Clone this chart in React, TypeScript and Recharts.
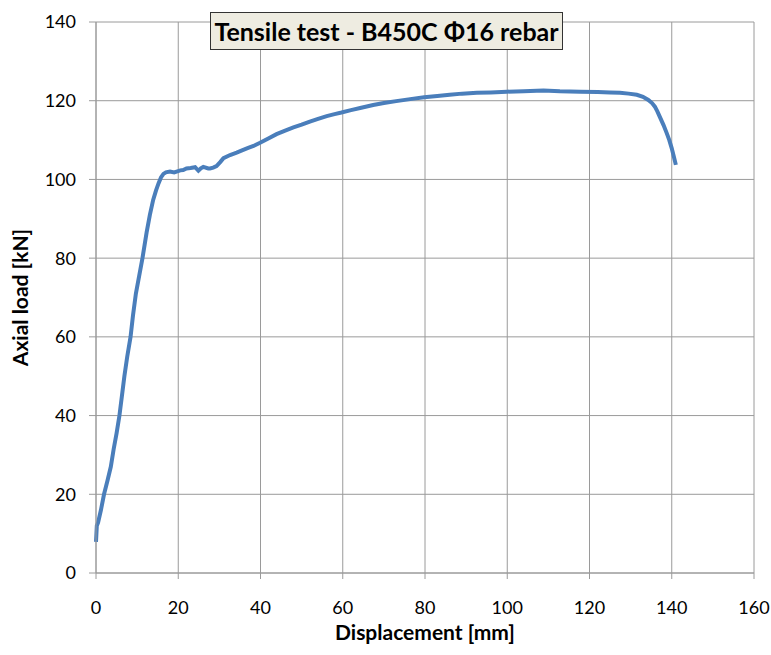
import { LineChart, Line, XAxis, YAxis, CartesianGrid, Label } from 'recharts'

// displacement [mm] and axial load [kN]
const displacement = [
  0, 0.2, 0.5, 1.2, 1.95, 2.8, 3.6, 4.3, 5.0, 5.7, 6.3, 6.9, 7.6, 8.4, 9.0, 9.7, 10.5, 11.3, 12.3, 13.1,
  13.9, 14.6, 15.2, 15.8, 16.4, 17, 18, 19, 19.6, 20.5, 21.2, 22, 23, 24.1, 24.9, 25.5, 26.1, 27.3,
  27.7, 28.5, 29.3, 30.2, 31, 32.6, 34.2, 35.8, 37, 38.3, 39.9, 41.9, 43.9, 46, 48, 50, 52, 54,
  56.1, 58, 59.7, 62, 64.5, 67.4, 70, 73, 76.4, 79.8, 83, 86, 89, 92.6, 96, 99.9, 104, 108.8,
  112.8, 117.7, 122, 125, 127.4, 129.5, 131.5, 133, 134.3, 135.2, 135.9, 136.5, 137.1, 138, 138.8,
  139.4, 140, 140.5, 141,
]
const load = [
  7.9, 12, 12.8, 16, 20, 23.5, 27, 31.5, 35.5, 40, 45, 50, 55, 60, 65.5, 71, 75.5, 80, 86.5, 91,
  94.8, 97.2, 99, 100.5, 101.4, 101.8, 102, 101.8, 102, 102.3, 102.4, 102.8, 102.9, 103.1, 102.2,
  102.8, 103.2, 102.8, 102.8, 103, 103.4, 104.4, 105.4, 106.2, 106.8, 107.5, 108, 108.5, 109.3,
  110.4, 111.5, 112.4, 113.2, 113.9, 114.7, 115.4, 116.1, 116.6, 117, 117.6, 118.2, 118.9, 119.4,
  119.9, 120.4, 120.9, 121.2, 121.5, 121.8, 122, 122.1, 122.3, 122.4, 122.6, 122.4, 122.3, 122.2,
  122.1, 122, 121.8, 121.5, 121, 120.2, 119.4, 118.5, 117.3, 115.9, 113.8, 111.7, 110, 107.9, 105.8,
  103.7,
]

const xTicks = [0, 20, 40, 60, 80, 100, 120, 140, 160]
const yTicks = [0, 20, 40, 60, 80, 100, 120, 140]

const data = displacement.map((x, i) => ({ x, y: load[i] }))

const FONT = 'Lato, "Open Sans", sans-serif'
const GRID = '#9a9a9a'

export default function App() {
  return (
    <div style={{ position: 'absolute', left: 0, top: 0, width: 771, height: 655, background: '#fff', fontFamily: FONT }}>
      <LineChart width={771} height={655} data={data} margin={{ top: 22, right: 17, bottom: 32, left: 0 }}>
        <CartesianGrid stroke={GRID} strokeWidth={1} />
        <XAxis
          type="number"
          dataKey="x"
          domain={[0, 160]}
          ticks={xTicks}
          height={50}
          stroke={GRID}
          tickSize={6}
          tickMargin={22}
          tick={{ fill: '#000', fontSize: 18, fontFamily: FONT }}
        >
          <Label
            value="Displacement [mm]"
            position="bottom"
            offset={2}
            style={{ fontSize: 21, fontWeight: 700, fill: '#000', fontFamily: FONT }}
          />
        </XAxis>
        <YAxis
          type="number"
          domain={[0, 140]}
          ticks={yTicks}
          width={96}
          stroke={GRID}
          tickSize={7}
          tickMargin={13}
          tick={{ fill: '#000', fontSize: 18, fontFamily: FONT }}
        >
          <Label
            value="Axial load [kN]"
            angle={-90}
            position="insideLeft"
            offset={21}
            style={{ fontSize: 21, fontWeight: 700, fill: '#000', fontFamily: FONT, textAnchor: 'middle' }}
          />
        </YAxis>
        <Line
          type="linear"
          dataKey="y"
          stroke="#4a7ebb"
          strokeWidth={4}
          dot={false}
          isAnimationActive={false}
        />
      </LineChart>
      <div
        style={{
          position: 'absolute',
          left: 210,
          top: 12,
          width: 351,
          height: 36,
          background: '#eeece1',
          border: '1.5px solid #333',
          display: 'flex',
          alignItems: 'center',
          justifyContent: 'center',
          fontSize: 25,
          fontWeight: 700,
          color: '#000',
          whiteSpace: 'nowrap',
        }}
      >
        Tensile test - B450C Φ16 rebar
      </div>
    </div>
  )
}
